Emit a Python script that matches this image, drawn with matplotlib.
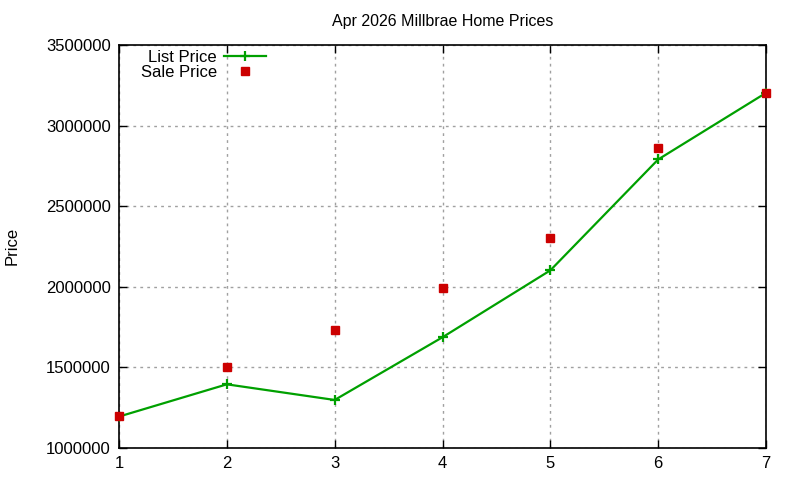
import matplotlib
matplotlib.use("Agg")
import matplotlib.pyplot as plt

plt.rcParams['font.family'] = ['Liberation Sans', 'DejaVu Sans']

months = [1, 2, 3, 4, 5, 6, 7]
list_price = [1195000, 1395000, 1298000, 1687000, 2102000, 2790000, 3203000]
sale_price = [1196000, 1500000, 1729000, 1990000, 2300000, 2860000, 3203000]
yticks = [1000000, 1500000, 2000000, 2500000, 3000000, 3500000]

fig = plt.figure(figsize=(8, 4.8), dpi=100)
ax = fig.add_axes([119/800, 1 - 448/480, (766-119)/800, (448-45)/480])

ax.plot(months, list_price, color='#00a000', lw=1.6, marker='+', markersize=7,
        markeredgewidth=1.6, label='List Price', zorder=3)
ax.plot(months, sale_price, linestyle='none', color='#cc0000', marker='s',
        markersize=6, label='Sale Price', zorder=4, clip_on=False)

ax.set_xlim(1, 7)
ax.set_ylim(1000000, 3500000)
ax.set_xticks(months)
ax.set_yticks(yticks)
ax.set_yticklabels([str(v) for v in yticks])
ax.tick_params(direction='in', top=True, right=True, labelsize=12, length=6, width=1)
ax.tick_params(axis='y', pad=6)
ax.tick_params(axis='x', pad=6)
ax.grid(True, color='#a0a0a0', linestyle=(0, (2, 3)), linewidth=1)
for s in ax.spines.values():
    s.set_linewidth(1.2)

ax.set_title('Apr 2026 Millbrae Home Prices', fontsize=11.5, pad=14)
fig.text(12/800, 1 - 246/480, 'Price', rotation=90, ha='center', va='center', fontsize=12)

leg = ax.legend(loc='upper right', bbox_to_anchor=(0.227, 0.988), frameon=False,
                markerfirst=False, fontsize=12, handlelength=2.5, handletextpad=0.45,
                labelspacing=0.0, borderaxespad=0, borderpad=0)

fig.savefig('out.png', dpi=100)
